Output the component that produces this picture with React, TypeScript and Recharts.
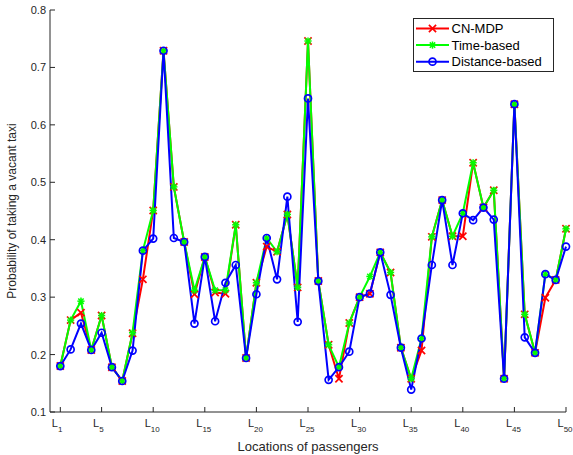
import React from 'react'
import { Legend, Line, LineChart, XAxis, YAxis } from 'recharts'

// locations L1..L50
const locations = [
  1, 2, 3, 4, 5, 6, 7, 8, 9, 10, 11, 12, 13, 14, 15, 16, 17, 18, 19, 20, 21, 22, 23, 24, 25,
  26, 27, 28, 29, 30, 31, 32, 33, 34, 35, 36, 37, 38, 39, 40, 41, 42, 43, 44, 45, 46, 47, 48, 49, 50,
]

const cnMdp = [
  0.18, 0.26, 0.273, 0.208, 0.268, 0.178, 0.154, 0.237, 0.331, 0.451,
  0.729, 0.492, 0.396, 0.305, 0.37, 0.308, 0.306, 0.426, 0.194, 0.325,
  0.388, 0.379, 0.444, 0.317, 0.746, 0.328, 0.217, 0.158, 0.255, 0.3,
  0.306, 0.378, 0.343, 0.212, 0.158, 0.207, 0.405, 0.469, 0.406, 0.406,
  0.534, 0.456, 0.486, 0.158, 0.636, 0.27, 0.203, 0.299, 0.33, 0.419,
]

const timeBased = [
  0.18, 0.26, 0.293, 0.208, 0.268, 0.178, 0.154, 0.238, 0.381, 0.451,
  0.729, 0.492, 0.396, 0.312, 0.37, 0.312, 0.312, 0.426, 0.194, 0.325,
  0.403, 0.379, 0.444, 0.317, 0.746, 0.328, 0.217, 0.178, 0.255, 0.3,
  0.336, 0.378, 0.343, 0.212, 0.158, 0.228, 0.405, 0.469, 0.406, 0.446,
  0.534, 0.456, 0.486, 0.158, 0.636, 0.27, 0.203, 0.34, 0.33, 0.419,
]

const distanceBased = [
  0.18, 0.209, 0.254, 0.208, 0.238, 0.178, 0.154, 0.207, 0.381, 0.402,
  0.729, 0.403, 0.396, 0.254, 0.37, 0.258, 0.325, 0.356, 0.194, 0.305,
  0.403, 0.331, 0.475, 0.257, 0.646, 0.328, 0.156, 0.178, 0.205, 0.3,
  0.306, 0.378, 0.304, 0.212, 0.139, 0.228, 0.356, 0.469, 0.356, 0.446,
  0.434, 0.456, 0.435, 0.158, 0.636, 0.23, 0.203, 0.34, 0.33, 0.388,
]

const xTicks = [1, 5, 10, 15, 20, 25, 30, 35, 40, 45, 50]
const yTicks = [0.1, 0.2, 0.3, 0.4, 0.5, 0.6, 0.7, 0.8]

const seriesInfo = [
  { key: 'cnMdp', name: 'CN-MDP', color: '#ff0000', marker: 'cross' },
  { key: 'timeBased', name: 'Time-based', color: '#00ff00', marker: 'star' },
  { key: 'distanceBased', name: 'Distance-based', color: '#0000ff', marker: 'circle' },
]

const data = locations.map((loc, i) => ({
  loc,
  cnMdp: cnMdp[i],
  timeBased: timeBased[i],
  distanceBased: distanceBased[i],
}))

const FONT = '"Liberation Sans", Arial, Helvetica, sans-serif'
const AXIS = '#262626'
const BOX = '#7a7a7a'

function Marker({ kind, cx, cy, color }: { kind: string; cx: number; cy: number; color: string }) {
  const s = 3.6
  if (kind === 'cross') {
    return (
      <g stroke={color} strokeWidth={1.7}>
        <line x1={cx - s} y1={cy - s} x2={cx + s} y2={cy + s} />
        <line x1={cx - s} y1={cy + s} x2={cx + s} y2={cy - s} />
      </g>
    )
  }
  if (kind === 'star') {
    const d = 2.7
    return (
      <g stroke={color} strokeWidth={1.5}>
        <line x1={cx - s} y1={cy} x2={cx + s} y2={cy} />
        <line x1={cx} y1={cy - s} x2={cx} y2={cy + s} />
        <line x1={cx - d} y1={cy - d} x2={cx + d} y2={cy + d} />
        <line x1={cx - d} y1={cy + d} x2={cx + d} y2={cy - d} />
      </g>
    )
  }
  return <circle cx={cx} cy={cy} r={3.5} fill="none" stroke={color} strokeWidth={1.7} />
}

const BottomTick = (props: any) => {
  const { x, y, payload } = props
  return (
    <g>
      <line x1={x} x2={x} y1={y} y2={y - 5} stroke={AXIS} />
      <text x={x - 8.5} y={y + 15} fontSize={11} fill={AXIS} fontFamily={FONT}>
        L
        <tspan fontSize={8} dy={5}>
          {payload.value}
        </tspan>
      </text>
    </g>
  )
}

const TopTick = (props: any) => {
  const { x, y } = props
  return <line x1={x} x2={x} y1={y} y2={y + 5} stroke={AXIS} />
}

const LeftTick = (props: any) => {
  const { x, y, payload } = props
  return (
    <g>
      <line x1={x} x2={x + 5} y1={y} y2={y} stroke={AXIS} />
      <text x={x - 4} y={y + 4} fontSize={11} fill={AXIS} textAnchor="end" fontFamily={FONT}>
        {payload.value.toFixed(1)}
      </text>
    </g>
  )
}

const RightTick = (props: any) => {
  const { x, y } = props
  return <line x1={x} x2={x - 5} y1={y} y2={y} stroke={AXIS} />
}

function LegendBox() {
  return (
    <svg width={141} height={54} style={{ display: 'block' }}>
      <rect x={0.5} y={0.5} width={140} height={53} fill="#fff" stroke={AXIS} />
      {seriesInfo.map((s, i) => {
        const cy = 10.5 + i * 16.6
        return (
          <g key={s.key}>
            <line x1={3} x2={36} y1={cy} y2={cy} stroke={s.color} strokeWidth={2} />
            <Marker kind={s.marker} cx={19.5} cy={cy} color={s.color} />
            <text x={38.5} y={cy + 4.6} fontSize={13} fill="#000" fontFamily={FONT}>
              {s.name}
            </text>
          </g>
        )
      })}
    </svg>
  )
}

export default function App() {
  return (
    <div style={{ position: 'absolute', left: 0, top: 0, background: '#fff' }}>
      <LineChart width={573} height={455} data={data} margin={{ top: 10, right: 7, left: 0, bottom: 0 }}>
        <XAxis
          dataKey="loc"
          type="number"
          domain={[0, 50]}
          ticks={xTicks}
          height={43}
          stroke={AXIS}
          tickLine={false}
          tickSize={0}
          tickMargin={0}
          tick={<BottomTick />}
          interval={0}
          label={{
            value: 'Locations of passengers',
            position: 'insideBottom',
            offset: 4,
            fontSize: 13,
            fill: AXIS,
            fontFamily: FONT,
          }}
        />
        <XAxis
          xAxisId="top"
          dataKey="loc"
          type="number"
          orientation="top"
          domain={[0, 50]}
          ticks={xTicks}
          height={0}
          stroke={BOX}
          tickLine={false}
          tickSize={0}
          tickMargin={0}
          tick={<TopTick />}
          interval={0}
        />
        <YAxis
          domain={[0.1, 0.8]}
          ticks={yTicks}
          width={50}
          stroke={AXIS}
          tickLine={false}
          tickSize={0}
          tickMargin={0}
          tick={<LeftTick />}
          interval={0}
          label={({ viewBox }: any) => (
            <text
              x={16}
              y={viewBox.y + viewBox.height / 2}
              transform={`rotate(-90, 16, ${viewBox.y + viewBox.height / 2})`}
              textAnchor="middle"
              fontSize={12}
              fill={AXIS}
              fontFamily={FONT}
            >
              Probability of taking a vacant taxi
            </text>
          )}
        />
        <YAxis
          yAxisId="right"
          orientation="right"
          domain={[0.1, 0.8]}
          ticks={yTicks}
          width={0}
          stroke={BOX}
          tickLine={false}
          tickSize={0}
          tickMargin={0}
          tick={<RightTick />}
          interval={0}
        />
        {seriesInfo.map((s) => (
          <Line
            key={s.key}
            dataKey={s.key}
            name={s.name}
            type="linear"
            stroke={s.color}
            strokeWidth={2}
            isAnimationActive={false}
            dot={(p: any) => (
              <Marker key={`${s.key}-${p.index}`} kind={s.marker} cx={p.cx} cy={p.cy} color={s.color} />
            )}
            activeDot={false}
          />
        ))}
        <Legend
          layout="vertical"
          align="center"
          verticalAlign="middle"
          content={() => <LegendBox />}
          wrapperStyle={{ position: 'absolute', left: 413, top: 18, width: 141, height: 54 }}
        />
      </LineChart>
    </div>
  )
}
